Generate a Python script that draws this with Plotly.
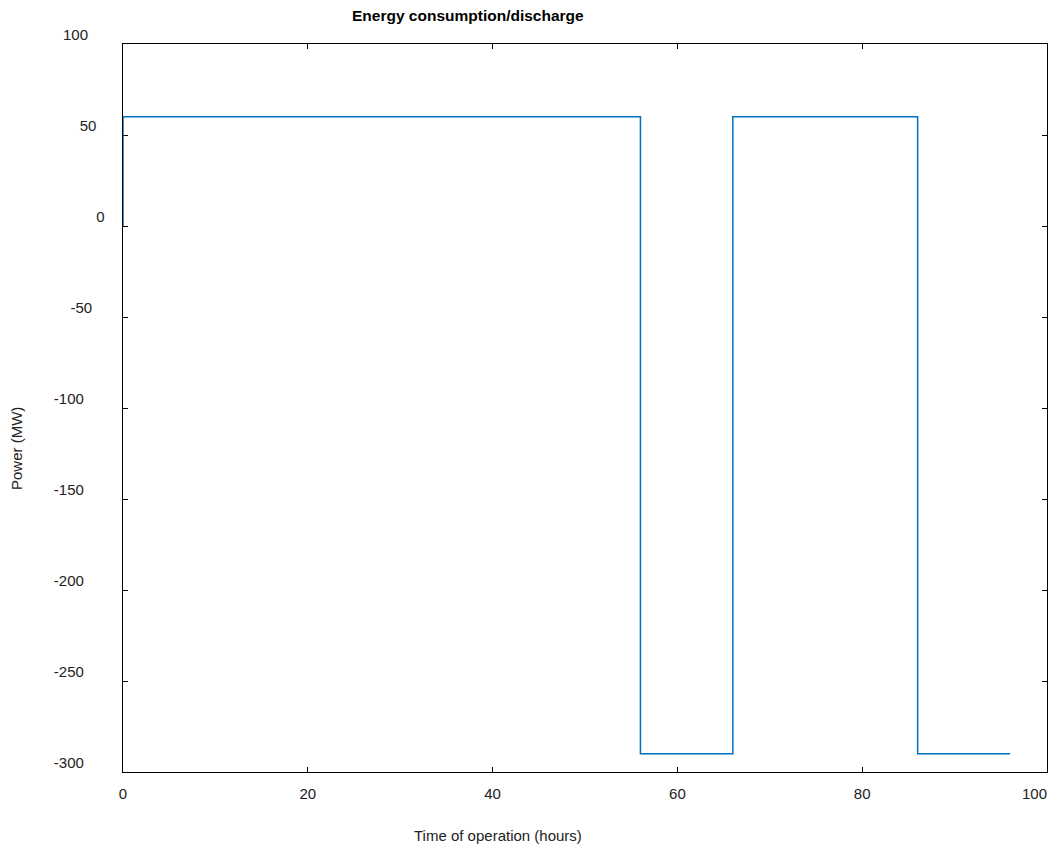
import plotly.graph_objects as go

# Step change times (hours) and power levels (MW)
times = [0, 0, 56, 66, 86, 96]
power = [0, 60, -290, 60, -290, -290]

x_ticks = [0, 20, 40, 60, 80, 100]
x_labels = ["0", "20", "40", "60", "80", "100"]
y_ticks = [100, 50, 0, -50, -100, -150, -200, -250, -300]
y_labels = ["100", "50", "0", "-50", "-100", "-150", "-200", "-250", "-300"]

font = "Liberation Sans, Arial, sans-serif"
FS = 15


def pad(label):
    # trailing no-break spaces reproduce the reference's label offset
    n = sum(2 if c.isdigit() else 1 for c in label)
    return label + "\u00a0" * n


# last x label sits inside the figure edge in the reference
x_text = x_labels[:-1] + [x_labels[-1] + "\u00a0" * 6]

fig = go.Figure()
fig.add_trace(go.Scatter(
    x=times, y=power, mode="lines", line_shape="hv",
    line=dict(color="#0072BD", width=1.5), showlegend=False,
))

axis_common = dict(
    showgrid=False, zeroline=False, showline=True, linecolor="black", linewidth=1,
    mirror="ticks", ticks="inside", ticklen=5, tickcolor="black",
    tickfont=dict(family=font, size=FS, color="#222"), automargin=False,
    layer="below traces",
)
fig.update_xaxes(range=[0, 100], tickvals=x_ticks, ticktext=x_text,
                 ticklabelstandoff=8, ticklabeloverflow="allow", **axis_common)
fig.update_yaxes(range=[-300, 100], tickvals=y_ticks, ticktext=[pad(t) for t in y_labels],
                 ticklabelstandoff=6, ticklabelshift=-9, **axis_common)

fig.update_layout(
    width=1049, height=848,
    margin=dict(l=123, r=2, t=44, b=76, pad=0),
    plot_bgcolor="white", paper_bgcolor="white",
    font=dict(family=font, size=FS, color="#222"),
    annotations=[
        dict(text="<b>Energy consumption/discharge</b>", xref="paper", yref="paper",
             x=(468 - 123) / 924, y=1, yshift=29, yanchor="middle", showarrow=False,
             font=dict(family=font, size=15.5, color="black")),
        dict(text="Time of operation (hours)", xref="paper", yref="paper",
             x=(497.5 - 123) / 924, y=0, yshift=-63, yanchor="middle", showarrow=False,
             font=dict(family=font, size=FS, color="#222")),
        dict(text="Power (MW)", xref="paper", yref="paper", textangle=-90,
             x=0, xshift=-107, xanchor="center", y=(772 - 449) / 728, yanchor="middle",
             showarrow=False, font=dict(family=font, size=FS, color="#222")),
    ],
)

fig.write_html(
    "out.html",
    config={"displayModeBar": False},
    post_script="document.body.style.margin='0px'; document.body.style.overflow='hidden';",
)
